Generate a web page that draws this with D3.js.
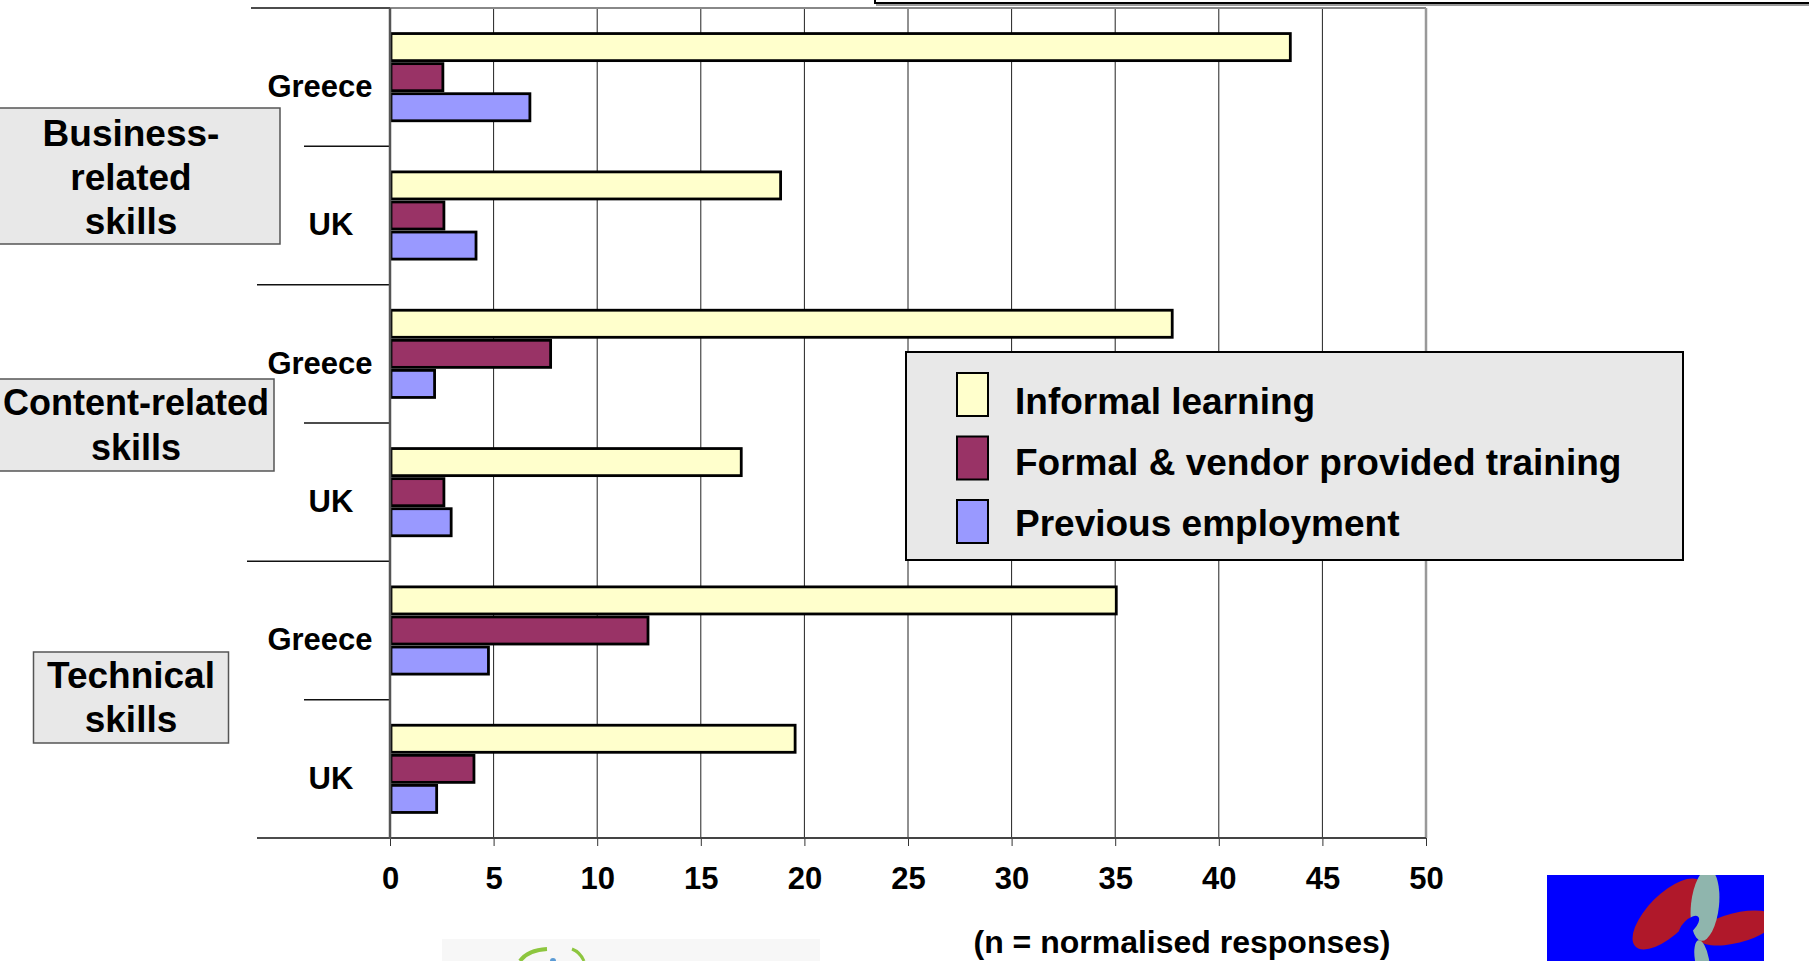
<!DOCTYPE html>
<html>
<head>
<meta charset="utf-8">
<script src="https://cdn.jsdelivr.net/npm/d3@7"></script>
<style>
    body { margin: 0; background: #fff; }
    svg { display: block; }
</style>
</head>
<body>
<div id="chartContainer"></div>
<script>
// chart data
var groups = ['Business-related skills', 'Content-related skills', 'Technical skills'],
    groupLines = [['Business-', 'related', 'skills'], ['Content-related', 'skills'], ['Technical', 'skills']],
    countries = ['Greece', 'UK'],
    seriesNames = ['Informal learning', 'Formal & vendor provided training', 'Previous employment'],
    informal = [43.5, 18.9, 37.8, 17.0, 35.1, 19.6],
    formal = [2.6, 2.65, 7.8, 2.65, 12.5, 4.1],
    previous = [6.8, 4.2, 2.2, 3.0, 4.8, 2.3],
    xTicks = [0, 5, 10, 15, 20, 25, 30, 35, 40, 45, 50],
    note = '(n = normalised responses)';

var width = 1809,
    height = 961,
    font = '"Liberation Sans", Arial, Helvetica, sans-serif',
    colors = ['#FFFFCC', '#993366', '#9999FF'],
    plot = { left: 390, right: 1426, top: 8, bottom: 838 },
    svg = d3.select('#chartContainer').append('svg')
        .attr('width', width)
        .attr('height', height)
        .style('font-family', font)
        .style('font-weight', 'bold');

var rows = [], values = [informal, formal, previous];
groups.forEach(function (g, gi) {
    countries.forEach(function (c, ci) {
        var i = gi * countries.length + ci;
        rows.push({
            key: g + '|' + c,
            group: g,
            country: c,
            index: i,
            bars: seriesNames.map(function (s, si) {
                return { series: s, si: si, value: values[si][i] };
            })
        });
    });
});

var x = d3.scaleLinear().domain([0, 50]).range([plot.left, plot.right]),
    y = d3.scaleBand().domain(rows.map(function (r) { return r.key; }))
        .range([plot.top, plot.bottom]).padding(0),
    ySub = d3.scaleBand().domain(seriesNames)
        .range([0, y.bandwidth()]).paddingInner(0).paddingOuter(0.8);

// title box cut off at the top right
svg.append('line')
    .attr('x1', 876).attr('x2', width).attr('y1', 5).attr('y2', 5)
    .style('stroke', '#999').style('stroke-width', 2);
svg.append('rect')
    .attr('x', 875).attr('y', -20).attr('width', 960).attr('height', 23)
    .style('fill', '#fff').style('stroke', '#000').style('stroke-width', 2);

// gridlines
svg.append('g').selectAll('line')
    .data(xTicks.slice(1, -1))
    .enter().append('line')
    .attr('x1', function (d) { return x(d); })
    .attr('x2', function (d) { return x(d); })
    .attr('y1', plot.top)
    .attr('y2', plot.bottom)
    .style('stroke', '#222')
    .style('stroke-width', 1);

// x axis
var xAxis = svg.append('g')
    .attr('transform', 'translate(0,' + plot.bottom + ')')
    .call(d3.axisBottom(x).tickValues(xTicks).tickSize(8).tickPadding(21));
xAxis.select('.domain').remove();
xAxis.selectAll('line').style('stroke', '#333').style('stroke-width', 1);
xAxis.selectAll('text')
    .style('font-family', font)
    .style('font-weight', 'bold')
    .style('font-size', '31px')
    .style('fill', '#000');

// plot frame
svg.append('line')
    .attr('x1', plot.left).attr('x2', plot.right)
    .attr('y1', plot.top).attr('y2', plot.top)
    .style('stroke', '#888').style('stroke-width', 2);
svg.append('line')
    .attr('x1', plot.right).attr('x2', plot.right)
    .attr('y1', plot.top).attr('y2', plot.bottom)
    .style('stroke', '#999').style('stroke-width', 2.5);
svg.append('line')
    .attr('x1', plot.left).attr('x2', plot.right)
    .attr('y1', plot.bottom).attr('y2', plot.bottom)
    .style('stroke', '#444').style('stroke-width', 2);

// category separators on the left
var sepStart = [251, 304, 257, 304, 247, 304, 257],
    sepY = rows.map(function (r) { return y(r.key); }).concat([plot.bottom]);
svg.append('g').selectAll('line')
    .data(sepY)
    .enter().append('line')
    .attr('x1', function (d, i) { return sepStart[i]; })
    .attr('x2', plot.left)
    .attr('y1', function (d) { return d; })
    .attr('y2', function (d) { return d; })
    .style('stroke', '#111')
    .style('stroke-width', 1.5);

// bars
var rowG = svg.append('g').selectAll('g')
    .data(rows)
    .enter().append('g')
    .attr('transform', function (r) { return 'translate(0,' + y(r.key) + ')'; });

rowG.selectAll('rect')
    .data(function (r) { return r.bars; })
    .enter().append('rect')
    .attr('x', x(0) + 1)
    .attr('y', function (d) { return ySub(d.series) + 1.5; })
    .attr('width', function (d) { return x(d.value) - x(0) - 2; })
    .attr('height', ySub.bandwidth() - 3)
    .style('fill', function (d) { return colors[d.si]; })
    .style('stroke', '#000')
    .style('stroke-width', 2.8);

// left axis line
svg.append('line')
    .attr('x1', plot.left).attr('x2', plot.left)
    .attr('y1', plot.top).attr('y2', plot.bottom + 1)
    .style('stroke', '#555').style('stroke-width', 2.5);

// country labels
var labelCenter = { Greece: 320, UK: 331 };
rowG.append('text')
    .attr('x', function (r) { return labelCenter[r.country]; })
    .attr('y', y.bandwidth() / 2 + 20)
    .attr('text-anchor', 'middle')
    .style('font-size', '31px')
    .text(function (r) { return r.country; });

// group label boxes
var boxes = [
    { x: -18, y: 108, w: 298, h: 136, cx: 131, base: 146, step: 44, size: 37 },
    { x: -2, y: 379, w: 276, h: 92, cx: 136, base: 415, step: 45, size: 36 },
    { x: 33.5, y: 652, w: 195, h: 91, cx: 131, base: 688, step: 44, size: 37 }
];
var groupG = svg.append('g').selectAll('g')
    .data(groups)
    .enter().append('g');
groupG.append('rect')
    .attr('x', function (d, i) { return boxes[i].x; })
    .attr('y', function (d, i) { return boxes[i].y; })
    .attr('width', function (d, i) { return boxes[i].w; })
    .attr('height', function (d, i) { return boxes[i].h; })
    .style('fill', '#E8E8E8')
    .style('stroke', '#555')
    .style('stroke-width', 1.5);
groupG.each(function (d, i) {
    d3.select(this).selectAll('text')
        .data(groupLines[i])
        .enter().append('text')
        .attr('x', boxes[i].cx)
        .attr('y', function (t, j) { return boxes[i].base + j * boxes[i].step; })
        .attr('text-anchor', 'middle')
        .style('font-size', boxes[i].size + 'px')
        .text(function (t) { return t; });
});

// legend
var legend = svg.append('g').attr('transform', 'translate(906,352)');
legend.append('rect')
    .attr('width', 777).attr('height', 208)
    .style('fill', '#E8E8E8')
    .style('stroke', '#000')
    .style('stroke-width', 2);
var item = legend.selectAll('g.item')
    .data(seriesNames)
    .enter().append('g')
    .attr('class', 'item')
    .attr('transform', function (d, i) { return 'translate(0,' + (21 + i * 63.5) + ')'; });
item.append('rect')
    .attr('x', 51).attr('width', 31).attr('height', 43)
    .style('fill', function (d, i) { return colors[i]; })
    .style('stroke', '#000')
    .style('stroke-width', 2);
item.append('text')
    .attr('x', 109)
    .attr('y', function (d, i) { return 41 - i * 2.5; })
    .style('font-size', '37px')
    .text(function (d) { return d; });

// footnote
svg.append('text')
    .attr('x', 1182).attr('y', 953)
    .attr('text-anchor', 'middle')
    .style('font-size', '32px')
    .text(note);

// logos at the bottom
svg.append('rect')
    .attr('x', 442).attr('y', 939).attr('width', 378).attr('height', 30)
    .style('fill', '#f7f7f7');
svg.append('path')
    .attr('d', 'M520,961 Q528,950 547,949')
    .style('fill', 'none').style('stroke', '#8dc63f').style('stroke-width', 4);
svg.append('path')
    .attr('d', 'M572,949 Q580,952 584,961')
    .style('fill', 'none').style('stroke', '#8dc63f').style('stroke-width', 3);
svg.append('circle').attr('cx', 553).attr('cy', 961).attr('r', 3).style('fill', '#5b9bd5');

svg.append('clipPath').attr('id', 'logoClip')
    .append('rect')
    .attr('x', 1547).attr('y', 875).attr('width', 217).attr('height', 90);
var logo = svg.append('g').attr('clip-path', 'url(#logoClip)');
logo.append('rect')
    .attr('x', 1547).attr('y', 875).attr('width', 217).attr('height', 90)
    .style('fill', '#0000ff');
logo.append('ellipse')
    .attr('transform', 'translate(1668,914) rotate(-45)')
    .attr('rx', 46).attr('ry', 20)
    .style('fill', '#b0182a');
logo.append('ellipse')
    .attr('transform', 'translate(1736,928) rotate(-14)')
    .attr('rx', 40).attr('ry', 15)
    .style('fill', '#b0182a');
logo.append('ellipse')
    .attr('transform', 'translate(1705,905) rotate(-84)')
    .attr('rx', 36).attr('ry', 14)
    .style('fill', '#8fb5ad');
logo.append('ellipse')
    .attr('transform', 'translate(1702,960) rotate(80)')
    .attr('rx', 20).attr('ry', 7)
    .style('fill', '#8fb5ad');
logo.append('ellipse')
    .attr('transform', 'translate(1689,926) rotate(-45)')
    .attr('rx', 13).attr('ry', 6)
    .style('fill', '#0000ff');
</script>
</body>
</html>
